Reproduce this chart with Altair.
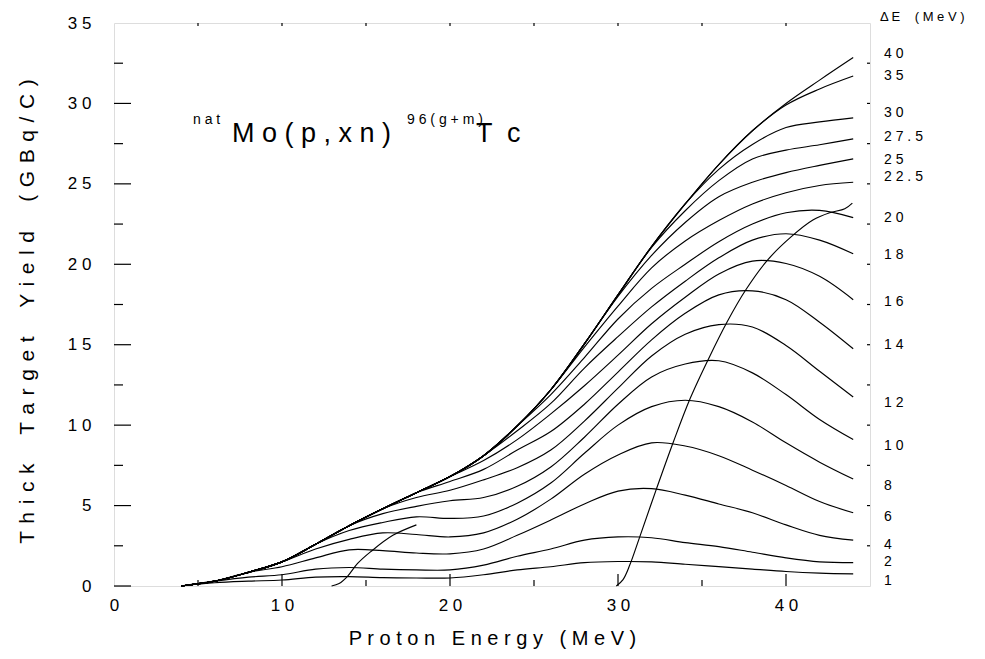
import altair as alt
import pandas as pd

FONT = "Liberation Sans"
NB = "\u00a0"
HAIR = "\u200a"

# Proton energy grid (MeV)
energy = [4, 6, 8, 10, 12, 14, 16, 18, 20, 22, 24, 26, 28, 30, 32, 34, 36, 38, 40, 42, 44]

# Thick target yield (GBq/C) for each energy window dE (MeV)
delta_labels = ["40", "35", "30", "27.5", "25", "22.5", "20", "18", "16",
                "14", "12", "10", "8", "6", "4", "2", "1"]
y_40 = [0, 0.3, 0.85, 1.5, 2.6, 3.75, 4.8, 5.8, 6.8, 8.1, 9.95, 12.2, 15.05, 18.1, 21.1, 23.75, 26.2, 28.3, 30.0, 31.45, 32.85]
y_35 = [0, 0.3, 0.85, 1.5, 2.6, 3.75, 4.8, 5.8, 6.8, 8.1, 9.95, 12.2, 15.05, 18.1, 21.1, 23.75, 26.2, 28.3, 29.9, 30.9, 31.7]
y_30 = [0, 0.3, 0.85, 1.5, 2.6, 3.75, 4.8, 5.8, 6.8, 8.1, 9.95, 12.2, 15.05, 18.1, 21.1, 23.75, 25.9, 27.45, 28.5, 28.85, 29.1]
y_275 = [0, 0.3, 0.85, 1.5, 2.6, 3.75, 4.8, 5.8, 6.8, 8.1, 9.95, 12.2, 15.05, 18.1, 21.05, 23.33, 25.2, 26.55, 27.1, 27.43, 27.8]
y_25 = [0, 0.3, 0.85, 1.5, 2.6, 3.75, 4.8, 5.8, 6.8, 8.1, 9.95, 12.2, 15.05, 18.0, 20.55, 22.6, 24.2, 25.1, 25.7, 26.15, 26.55]
y_225 = [0, 0.3, 0.85, 1.5, 2.6, 3.75, 4.8, 5.8, 6.8, 8.1, 9.95, 12.2, 14.85, 17.4, 19.78, 21.45, 22.72, 23.75, 24.45, 24.9, 25.1]
y_20 = [0, 0.3, 0.85, 1.5, 2.6, 3.75, 4.8, 5.8, 6.8, 8.1, 9.95, 11.9, 14.2, 16.6, 18.5, 20.0, 21.4, 22.5, 23.2, 23.35, 22.9]
y_18 = [0, 0.3, 0.85, 1.5, 2.6, 3.75, 4.8, 5.8, 6.8, 8.1, 9.65, 11.35, 13.55, 15.5, 17.35, 18.95, 20.4, 21.5, 21.9, 21.5, 20.65]
y_16 = [0, 0.3, 0.85, 1.5, 2.6, 3.75, 4.8, 5.8, 6.8, 7.8, 9.1, 10.7, 12.45, 14.35, 16.3, 17.95, 19.4, 20.2, 20.05, 19.25, 17.8]
y_14 = [0, 0.3, 0.85, 1.5, 2.6, 3.75, 4.8, 5.8, 6.5, 7.25, 8.45, 9.6, 11.3, 13.3, 15.3, 16.95, 18.1, 18.35, 17.8, 16.4, 14.75]
y_12 = [0, 0.3, 0.85, 1.5, 2.6, 3.75, 4.8, 5.5, 5.95, 6.6, 7.35, 8.45, 10.25, 12.3, 14.3, 15.65, 16.25, 16.1, 14.95, 13.35, 11.75]
y_10 = [0, 0.3, 0.85, 1.5, 2.6, 3.75, 4.5, 4.95, 5.3, 5.5, 6.2, 7.4, 9.25, 11.3, 13.0, 13.8, 14.0, 13.25, 11.9, 10.35, 9.1]
y_8 = [0, 0.3, 0.85, 1.5, 2.6, 3.45, 3.95, 4.3, 4.2, 4.35, 5.15, 6.4, 8.25, 10.0, 11.15, 11.55, 11.15, 10.2, 8.9, 7.7, 6.65]
y_6 = [0, 0.3, 0.85, 1.5, 2.3, 2.9, 3.3, 3.2, 3.05, 3.3, 4.15, 5.4, 6.95, 8.15, 8.9, 8.7, 8.1, 7.2, 6.25, 5.25, 4.55]
y_4 = [0, 0.3, 0.85, 1.2, 1.75, 2.25, 2.2, 2.05, 2.0, 2.3, 3.15, 4.1, 5.1, 5.9, 6.05, 5.65, 5.1, 4.55, 3.8, 3.15, 2.85]
y_2 = [0, 0.3, 0.55, 0.7, 1.05, 1.15, 1.05, 1.0, 1.0, 1.3, 1.85, 2.3, 2.85, 3.05, 3.0, 2.7, 2.45, 2.1, 1.75, 1.5, 1.45]
y_1 = [0, 0.2, 0.3, 0.37, 0.55, 0.58, 0.52, 0.5, 0.5, 0.7, 1.0, 1.2, 1.45, 1.52, 1.5, 1.35, 1.2, 1.05, 0.9, 0.8, 0.75]
curves = [y_40, y_35, y_30, y_275, y_25, y_225, y_20, y_18, y_16,
          y_14, y_12, y_10, y_8, y_6, y_4, y_2, y_1]

# locus of maxima (high energy) and of low-energy maxima
locus_hi_e = [29.9, 30.3, 30.7, 31.3, 32.3, 33.3, 34.3, 35.4, 36.5, 37.6, 38.9, 40.3, 41.6, 42.6, 43.5, 43.95]
locus_hi_y = [0, 0.4, 1.3, 3.07, 6.07, 8.97, 11.67, 14.15, 16.43, 18.4, 20.26, 21.7, 22.75, 23.2, 23.45, 23.8]
locus_lo_e = [12.95, 13.4, 13.9, 14.5, 15.3, 16.6, 18.0]
locus_lo_y = [0, 0.15, 0.6, 1.4, 2.15, 3.15, 3.8]

# right-hand dE labels (value on yield axis where each label sits)
label_y = [33.1, 31.7, 29.4, 27.9, 26.5, 25.4, 22.9, 20.6, 17.65,
           15.0, 11.4, 8.7, 6.2, 4.3, 2.55, 1.5, 0.3]

x_major = [10, 20, 30, 40]
x_minor = [5, 15, 25, 35]
x_top = [5, 10, 15, 20, 25, 30, 35, 40]
y_major = [0, 5, 10, 15, 20, 25, 30]
y_minor = [2.5, 7.5, 12.5, 17.5, 22.5, 27.5, 32.5]
y_right = [2.5, 5, 7.5, 10, 12.5, 15, 17.5, 20, 22.5, 25, 27.5, 30, 32.5]
x_labels = [0, 10, 20, 30, 40]
y_labels = [0, 5, 10, 15, 20, 25, 30, 35]


def spaced(s, gap=" ", word_gap=" " + NB + " "):
    # letter-spaced text; word gaps kept with non-breaking spaces
    words = s.split(" ")
    return word_gap.join(gap.join(list(w)) for w in words)


rows = []
for lab, ys in zip(delta_labels, curves):
    for e, v in zip(energy, ys):
        rows.append({"E": e, "Y": v, "g": "dE" + lab})
for e, v in zip(locus_hi_e, locus_hi_y):
    rows.append({"E": e, "Y": v, "g": "locus_hi"})
for e, v in zip(locus_lo_e, locus_lo_y):
    rows.append({"E": e, "Y": v, "g": "locus_lo"})
df = pd.DataFrame(rows)

W, H = 756, 563
xs = alt.Scale(domain=[0, 45], nice=False, zero=False)
ys_ = alt.Scale(domain=[0, 35], nice=False, zero=False)

spacer = "join(split(datum.label, ''), ' ')"

ytitle = spaced("Thick Target Yield (GBq/C)", gap=" " + HAIR,
                word_gap=" " + NB + NB + NB + " ")

lines = alt.Chart(df).mark_line(color="black", strokeWidth=1.15, interpolate="catmull-rom").encode(
    x=alt.X("E:Q", scale=xs, axis=alt.Axis(
        values=x_labels, labelExpr=spacer, ticks=False, tickSize=0, domain=False, grid=False,
        labelFont=FONT, labelFontSize=17, labelColor="black", labelPadding=11,
        labelFlush=False, labelOverlap=False,
        title=spaced("Proton Energy (MeV)"), titleFont=FONT, titleFontSize=20,
        titleFontWeight="normal", titleColor="black", titlePadding=15)),
    y=alt.Y("Y:Q", scale=ys_, axis=alt.Axis(
        values=y_labels, labelExpr=spacer, ticks=False, tickSize=0, domain=False, grid=False,
        labelFont=FONT, labelFontSize=17, labelColor="black", labelPadding=23,
        labelFlush=False, labelOverlap=False,
        title=ytitle, titleFont=FONT, titleY=288,
        titleFontSize=21, titleFontWeight="normal", titleColor="black", titlePadding=30)),
    detail="g:N",
)


def xticks(vals, y1, y2):
    return alt.Chart(pd.DataFrame({"E": vals})).mark_rule(color="black", strokeWidth=1.2).encode(
        x=alt.X("E:Q", scale=xs), y=alt.value(y1), y2=alt.value(y2))


def yticks(vals, x1, x2):
    return alt.Chart(pd.DataFrame({"Y": vals})).mark_rule(color="black", strokeWidth=1.2).encode(
        y=alt.Y("Y:Q", scale=ys_), x=alt.value(x1), x2=alt.value(x2))


tick_layers = [
    xticks(x_major, H, H - 12),
    xticks(x_minor, H, H - 6),
    xticks(x_top, 0, 3),
    yticks(y_major, 0, 17),
    yticks(y_minor, 0, 9),
    yticks(y_right, W, W - 3),
]

lab_df = pd.DataFrame({"t": [spaced(s) for s in delta_labels], "Y": label_y})
right_labels = alt.Chart(lab_df).mark_text(
    align="left", baseline="middle", font=FONT, fontSize=14, color="black"
).encode(x=alt.value(770), y=alt.Y("Y:Q", scale=ys_), text="t:N")


def note(txt, px, py, size, align="left", baseline="alphabetic"):
    return alt.Chart(pd.DataFrame({"t": [txt]})).mark_text(
        align=align, baseline=baseline, font=FONT, fontSize=size, color="black"
    ).encode(x=alt.value(px), y=alt.value(py), text="t:N")


header = note(spaced("ΔE (MeV)", word_gap=" " + NB + NB + " "), 766, -6, 13, baseline="middle")

formula = [
    note(spaced("nat"), 79, 101, 14),
    note(spaced("Mo(p,xn)"), 118, 119, 27),
    note(spaced("96(g+m)"), 293, 101, 14),
    note(spaced("Tc", gap=" " + NB), 362, 119, 27),
]

chart = alt.layer(lines, *tick_layers, right_labels, header, *formula).properties(
    width=W, height=H,
    padding={"left": 106, "top": 15, "right": 106, "bottom": 65},
    autosize=alt.AutoSizeParams(type="none"),
).configure_view(stroke="black", strokeWidth=1.5).configure(background="white")

chart.save("out.html", embed_options={"renderer": "svg", "actions": False})
